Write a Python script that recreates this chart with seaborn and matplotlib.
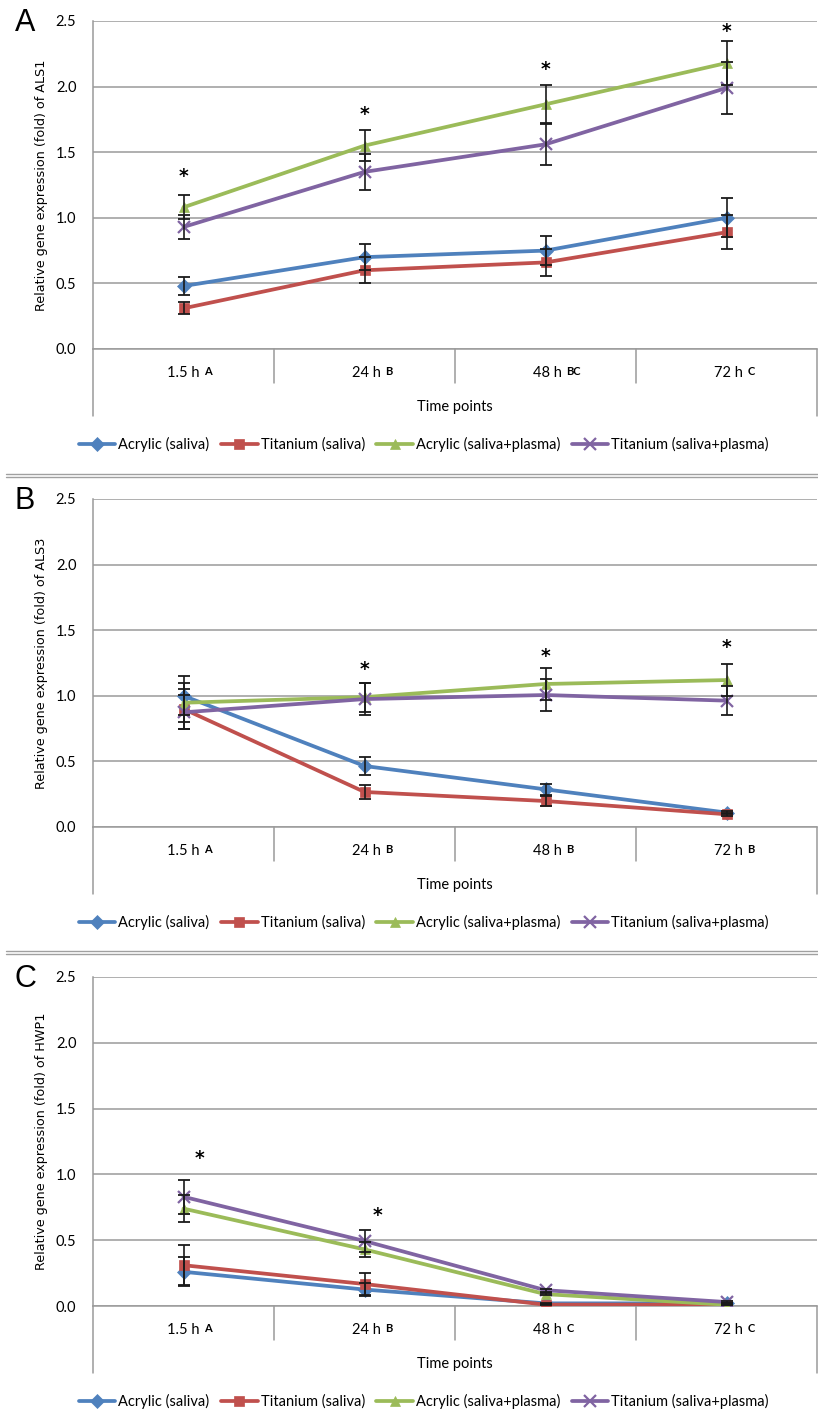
import numpy as np
import pandas as pd
import matplotlib.pyplot as plt
from matplotlib.lines import Line2D
import seaborn as sns

# categories and series
times = ["1.5 h", "24 h", "48 h", "72 h"]
groups = ["Acrylic (saliva)", "Titanium (saliva)",
          "Acrylic (saliva+plasma)", "Titanium (saliva+plasma)"]
colors = ["#4F81BD", "#C0504D", "#9BBB59", "#8064A2"]
marks = ["D", "s", "^", "X"]   # "X" swapped for a thin "x" after drawing

# A - ALS1
als1_mean = [[0.48, 0.70, 0.75, 1.00],
             [0.31, 0.60, 0.66, 0.89],
             [1.08, 1.55, 1.865, 2.18],
             [0.93, 1.35, 1.56, 1.99]]
als1_err = [[0.07, 0.10, 0.11, 0.15],
            [0.045, 0.10, 0.10, 0.13],
            [0.09, 0.12, 0.15, 0.17],
            [0.09, 0.14, 0.16, 0.20]]
als1_letters = ["A", "B", "BC", "C"]
als1_stars = [1.36, 1.83, 2.17, 2.46]

# B - ALS3
als3_mean = [[1.00, 0.465, 0.287, 0.11],
             [0.90, 0.267, 0.198, 0.097],
             [0.947, 0.99, 1.09, 1.12],
             [0.874, 0.975, 1.006, 0.963]]
als3_err = [[0.15, 0.07, 0.04, 0.012],
            [0.15, 0.05, 0.04, 0.012],
            [0.15, 0.11, 0.12, 0.12],
            [0.13, 0.12, 0.12, 0.11]]
als3_letters = ["A", "B", "B", "B"]
als3_stars = [None, 1.24, 1.34, 1.41]

# C - HWP1
hwp1_mean = [[0.26, 0.125, 0.02, 0.02],
             [0.31, 0.167, 0.01, 0.01],
             [0.74, 0.43, 0.09, 0.01],
             [0.83, 0.494, 0.12, 0.03]]
hwp1_err = [[0.11, 0.05, 0.005, 0.005],
            [0.15, 0.08, 0.005, 0.005],
            [0.10, 0.06, 0.01, 0.005],
            [0.13, 0.08, 0.01, 0.005]]
hwp1_letters = ["A", "B", "C", "C"]
hwp1_stars = [1.165, 0.73, None, None]
hwp1_star_dx = [0.09, 0.07, 0, 0]

sns.set_style("white")
plt.rcParams["font.family"] = ["Lato", "DejaVu Sans"]

W, H = 818, 1410
fig = plt.figure(figsize=(W / 100, H / 100), dpi=100)

grid_col = "#9a9a9a"
txt_col = "black"


def fix_marker(line):
    if line.get_marker() == "X":
        line.set_marker("x")
        line.set_markersize(8.5)
    line.set_markeredgecolor(line.get_color())
    line.set_markeredgewidth(1.6 if line.get_marker() == "x" else 0.5)


def draw_panel(ax, means, errs, gene, letters, stars, tag, star_dx=None):
    df = pd.DataFrame({
        "time": np.tile(np.arange(len(times)), len(groups)),
        "group": np.repeat(groups, len(times)),
        "value": np.concatenate(means),
    })
    sns.lineplot(data=df, x="time", y="value", hue="group", style="group",
                 hue_order=groups, style_order=groups, palette=colors,
                 markers=dict(zip(groups, marks)), dashes=False,
                 lw=2.7, markersize=7.5, ax=ax, zorder=3)
    for line in ax.lines:
        fix_marker(line)

    for m, e in zip(means, errs):
        ax.errorbar(np.arange(len(times)), m, yerr=e, fmt="none",
                    ecolor="#1a1a1a", elinewidth=1.2, capsize=4.5,
                    capthick=1.3, zorder=5)

    # significance marks
    for i, s in enumerate(stars):
        if s is None:
            continue
        dx = star_dx[i] if star_dx else 0
        ax.annotate("*", (i + dx, s), xytext=(0, -4), textcoords="offset points",
                    ha="center", va="center", fontsize=13.5, fontweight="bold",
                    family="DejaVu Sans", color=txt_col)

    ax.set_xlim(-0.5, len(times) - 0.5)
    ax.set_ylim(0, 2.5)
    ax.set_yticks(np.arange(0, 2.51, 0.5))
    ax.set_yticklabels([f"{v:.1f}" for v in np.arange(0, 2.51, 0.5)])
    ax.set_xticks([])
    ax.set_xlabel("")
    ax.tick_params(axis="y", length=4, color=grid_col, pad=8,
                   labelsize=10.5, labelcolor=txt_col)
    ax.yaxis.grid(True, color=grid_col, lw=1.1)
    ax.set_axisbelow(True)
    for side in ["top", "right"]:
        ax.spines[side].set_visible(False)
    for side in ["left", "bottom"]:
        ax.spines[side].set_color(grid_col)
        ax.spines[side].set_linewidth(1.1)

    ax.set_ylabel(f"Relative gene expression (fold) of {gene}",
                  family="DejaVu Sans", fontsize=9.2, color=txt_col)
    ax.yaxis.set_label_coords(-0.062, 0.5)

    # multi-level category axis lines
    ax.add_line(Line2D([0, 0], [0, -0.205], transform=ax.transAxes,
                       color=grid_col, lw=1.1, clip_on=False))
    ax.add_line(Line2D([1, 1], [0, -0.205], transform=ax.transAxes,
                       color=grid_col, lw=1.1, clip_on=False))
    for k in range(1, len(times)):
        xf = k / len(times)
        ax.add_line(Line2D([xf, xf], [0, -0.104], transform=ax.transAxes,
                           color=grid_col, lw=1.1, clip_on=False))

    trans = ax.get_xaxis_transform()
    for i, (t, l) in enumerate(zip(times, letters)):
        ax.text(i + 0.09, -0.072, t, transform=trans, ha="right", va="center",
                fontsize=10.5, color=txt_col)
        ax.text(i + 0.116, -0.068, l, transform=trans, ha="left", va="center",
                fontsize=8, fontweight="bold", color=txt_col)
    ax.text(0.5, -0.176, "Time points", transform=ax.transAxes, ha="center",
            va="center", fontsize=10.5, color=txt_col)

    ax.text(-0.094, 0.97, tag, transform=ax.transAxes, ha="center",
            va="baseline", fontsize=22, family="Liberation Sans", color=txt_col)

    sns.move_legend(ax, "center", bbox_to_anchor=(0.457, -0.29), ncol=4,
                    frameon=False, title=None, handlelength=2.5,
                    handletextpad=0.2, columnspacing=0.8, fontsize=10.5)
    leg = ax.get_legend()
    for h in leg.legend_handles:
        fix_marker(h)
        h.set_linewidth(2.7)
    for t in leg.get_texts():
        t.set_color(txt_col)


left = 93 / W
width = (817 - 93) / W
panels = [
    (21, 349, als1_mean, als1_err, "ALS1", als1_letters, als1_stars, "A", None),
    (499, 827, als3_mean, als3_err, "ALS3", als3_letters, als3_stars, "B", None),
    (977, 1306, hwp1_mean, hwp1_err, "HWP1", hwp1_letters, hwp1_stars, "C", hwp1_star_dx),
]
for top, bot, m, e, gene, letters, stars, tag, sdx in panels:
    ax = fig.add_axes([left, 1 - bot / H, width, (bot - top) / H])
    draw_panel(ax, m, e, gene, letters, stars, tag, sdx)

# double separators between panels
for y in [473.5, 476.5, 951, 954]:
    fig.add_artist(Line2D([6 / W, 1], [1 - y / H] * 2, color="#a0a0a0", lw=1.0))

fig.savefig("out.png", dpi=100)
